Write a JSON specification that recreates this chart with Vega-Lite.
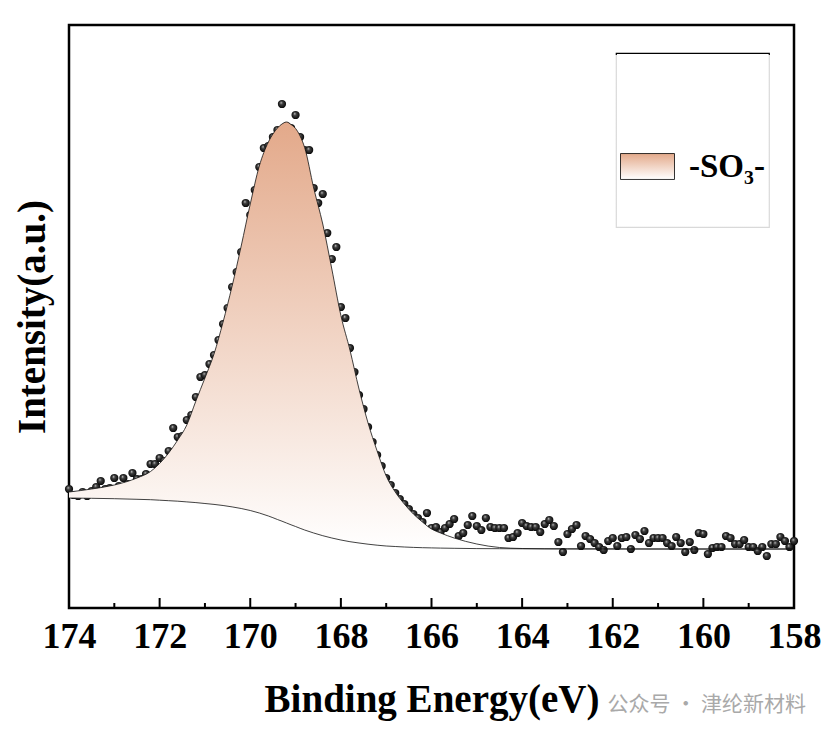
{
  "$schema": "https://vega.github.io/schema/vega-lite/v6.json",
  "autosize": {"type": "none"},
  "padding": {"left": 69, "top": 25, "right": 39, "bottom": 126},
  "width": 725,
  "height": 583,
  "background": "white",
  "title": {"text": "公众号 · 津纶新材料", "orient": "bottom", "anchor": "end", "frame": "group", "font": "Noto Sans CJK SC", "fontSize": 21, "fontWeight": "normal", "color": "#a9a9a9", "offset": -25, "dx": 12},
  "config": {
    "font": "Liberation Serif",
    "view": {"stroke": "black", "strokeWidth": 2.5}
  },
  "datasets": {
    "majorTicks": [{"t":158},{"t":160},{"t":162},{"t":164},{"t":166},{"t":168},{"t":170},{"t":172},{"t":174}],
    "minorTicks": [{"t":159},{"t":161},{"t":163},{"t":165},{"t":167},{"t":169},{"t":171},{"t":173}],
    "pts": [
      {"be":174.0,"c":119},{"be":173.9,"c":113},{"be":173.8,"c":112},{"be":173.7,"c":116},{"be":173.6,"c":112},{"be":173.5,"c":117},{"be":173.4,"c":121},{"be":173.3,"c":127},{"be":173.2,"c":119},{"be":173.1,"c":120},
      {"be":173.0,"c":130},{"be":172.9,"c":122},{"be":172.8,"c":130},{"be":172.7,"c":124},{"be":172.6,"c":135},{"be":172.5,"c":129},{"be":172.4,"c":129},{"be":172.3,"c":134},{"be":172.2,"c":144},{"be":172.1,"c":144},
      {"be":172.0,"c":150},{"be":171.9,"c":147},{"be":171.8,"c":157},{"be":171.7,"c":180},{"be":171.6,"c":171},{"be":171.5,"c":172},{"be":171.4,"c":188},{"be":171.3,"c":193},{"be":171.2,"c":211},{"be":171.1,"c":231},
      {"be":171.0,"c":233},{"be":170.9,"c":244},{"be":170.8,"c":253},{"be":170.7,"c":268},{"be":170.6,"c":284},{"be":170.5,"c":300},{"be":170.4,"c":321},{"be":170.3,"c":336},{"be":170.2,"c":356},{"be":170.1,"c":405},
      {"be":170.0,"c":393},{"be":169.9,"c":418},{"be":169.8,"c":441},{"be":169.7,"c":460},{"be":169.6,"c":462},{"be":169.5,"c":471},{"be":169.4,"c":478},{"be":169.3,"c":504},{"be":169.2,"c":482},{"be":169.1,"c":480},
      {"be":169.0,"c":493},{"be":168.9,"c":471},{"be":168.8,"c":458},{"be":168.7,"c":458},{"be":168.6,"c":420},{"be":168.5,"c":405},{"be":168.4,"c":414},{"be":168.3,"c":375},{"be":168.2,"c":349},{"be":168.1,"c":361},
      {"be":168.0,"c":301},{"be":167.9,"c":290},{"be":167.8,"c":260},{"be":167.7,"c":236},{"be":167.6,"c":213},{"be":167.5,"c":199},{"be":167.4,"c":181},{"be":167.3,"c":166},{"be":167.2,"c":153},{"be":167.1,"c":142},
      {"be":167.0,"c":130},{"be":166.9,"c":123},{"be":166.8,"c":115},{"be":166.7,"c":109},{"be":166.6,"c":104},{"be":166.5,"c":99},{"be":166.4,"c":94},{"be":166.3,"c":90},{"be":166.2,"c":86},{"be":166.1,"c":95},
      {"be":166.0,"c":80},{"be":165.9,"c":81},{"be":165.8,"c":76},{"be":165.7,"c":80},{"be":165.6,"c":84},{"be":165.5,"c":89},{"be":165.4,"c":72},{"be":165.3,"c":75},{"be":165.2,"c":83},{"be":165.1,"c":92},
      {"be":165.0,"c":82},{"be":164.9,"c":78},{"be":164.8,"c":90},{"be":164.7,"c":81},{"be":164.6,"c":80},{"be":164.5,"c":80},{"be":164.4,"c":80},{"be":164.3,"c":70},{"be":164.2,"c":71},{"be":164.1,"c":75},
      {"be":164.0,"c":85},{"be":163.9,"c":82},{"be":163.8,"c":81},{"be":163.7,"c":81},{"be":163.6,"c":76},{"be":163.5,"c":84},{"be":163.4,"c":88},{"be":163.3,"c":82},{"be":163.2,"c":66},{"be":163.1,"c":56},
      {"be":163.0,"c":74},{"be":162.9,"c":79},{"be":162.8,"c":83},{"be":162.7,"c":62},{"be":162.6,"c":72},{"be":162.5,"c":69},{"be":162.4,"c":65},{"be":162.3,"c":61},{"be":162.2,"c":58},{"be":162.1,"c":67},
      {"be":162.0,"c":70},{"be":161.9,"c":62},{"be":161.8,"c":70},{"be":161.7,"c":71},{"be":161.6,"c":59},{"be":161.5,"c":73},{"be":161.4,"c":69},{"be":161.3,"c":77},{"be":161.2,"c":65},{"be":161.1,"c":70},
      {"be":161.0,"c":70},{"be":160.9,"c":70},{"be":160.8,"c":65},{"be":160.7,"c":62},{"be":160.6,"c":71},{"be":160.5,"c":65},{"be":160.4,"c":56},{"be":160.3,"c":66},{"be":160.2,"c":58},{"be":160.1,"c":75},
      {"be":160.0,"c":74},{"be":159.9,"c":54},{"be":159.8,"c":60},{"be":159.7,"c":61},{"be":159.6,"c":61},{"be":159.5,"c":72},{"be":159.4,"c":70},{"be":159.3,"c":64},{"be":159.2,"c":64},{"be":159.1,"c":68},
      {"be":159.0,"c":61},{"be":158.9,"c":61},{"be":158.8,"c":57},{"be":158.7,"c":61},{"be":158.6,"c":52},{"be":158.5,"c":64},{"be":158.4,"c":64},{"be":158.3,"c":71},{"be":158.2,"c":67},{"be":158.1,"c":61},
      {"be":158.0,"c":67}
    ],
    "fit": [
      {"be":174.0,"fit":116,"bg":110},{"be":173.5,"fit":119,"bg":109.7},{"be":173.0,"fit":123,"bg":109.3},{"be":172.5,"fit":130,"bg":108.7},{"be":172.2,"fit":136.5,"bg":108.3},
      {"be":172.0,"fit":144.5,"bg":107.8},{"be":171.8,"fit":155,"bg":107.3},{"be":171.6,"fit":168,"bg":106.8},{"be":171.4,"fit":183,"bg":106.1},{"be":171.2,"fit":207,"bg":105.4},
      {"be":171.0,"fit":230,"bg":104.5},{"be":170.8,"fit":254,"bg":103.6},{"be":170.6,"fit":286,"bg":102.5},{"be":170.4,"fit":322,"bg":101.1},{"be":170.2,"fit":362,"bg":99.5},
      {"be":170.0,"fit":404,"bg":97.5},{"be":169.8,"fit":442,"bg":95},{"be":169.6,"fit":466,"bg":92},{"be":169.5,"fit":474,"bg":90.3},{"be":169.4,"fit":480,"bg":88.5},
      {"be":169.3,"fit":484,"bg":86.8},{"be":169.2,"fit":486,"bg":85},{"be":169.1,"fit":483.5,"bg":83.2},{"be":169.0,"fit":479.5,"bg":81.5},{"be":168.9,"fit":472,"bg":79.7},
      {"be":168.8,"fit":460.5,"bg":78},{"be":168.6,"fit":420,"bg":75},{"be":168.4,"fit":384,"bg":72.3},{"be":168.2,"fit":339,"bg":70},{"be":168.0,"fit":292.5,"bg":68},
      {"be":167.8,"fit":258,"bg":66.3},{"be":167.6,"fit":219,"bg":65},{"be":167.4,"fit":185,"bg":63.8},{"be":167.2,"fit":157,"bg":62.8},{"be":167.0,"fit":132,"bg":62},
      {"be":166.8,"fit":116,"bg":61.5},{"be":166.6,"fit":104,"bg":61},{"be":166.4,"fit":94,"bg":60.6},{"be":166.2,"fit":86,"bg":60.3},{"be":166.0,"fit":79,"bg":60.1},
      {"be":165.8,"fit":75,"bg":59.9},{"be":165.5,"fit":70,"bg":59.7},{"be":165.0,"fit":64,"bg":59.4},{"be":164.5,"fit":60.5,"bg":59.3},{"be":164.0,"fit":59.5,"bg":59.2},
      {"be":163.0,"fit":59.1,"bg":59.1},{"be":161.0,"fit":59,"bg":59},{"be":158.0,"fit":59,"bg":59}
    ]
  },
  "encoding": {
    "x": {
      "field": "be", "type": "quantitative",
      "scale": {"domain": [158, 174], "reverse": true, "nice": false, "zero": false},
      "axis": {
        "orient": "bottom",
        "values": [158,160,162,164,166,168,170,172,174],
        "ticks": true, "tickSize": 0,
        "domain": false, "grid": false,
        "labelFont": "Liberation Serif", "labelFontSize": 36, "labelFontWeight": "bold", "labelColor": "black",
        "labelPadding": 11, "labelFlush": false, "labelOverlap": false,
        "title": "Binding Energy(eV)", "titleFont": "Liberation Serif", "titleFontSize": 39, "titleFontWeight": "bold", "titleColor": "black", "titlePadding": 26
      }
    }
  },
  "layer": [
    {
      "data": {"name": "pts"},
      "mark": {"type": "point", "shape": "circle", "filled": true, "size": 68, "opacity": 1, "strokeWidth": 0,
        "fill": {"gradient": "radial", "x1": 0.38, "y1": 0.32, "r1": 0, "x2": 0.5, "y2": 0.5, "r2": 0.55,
          "stops": [{"offset": 0, "color": "#e8e8e8"}, {"offset": 0.3, "color": "#444444"}, {"offset": 1, "color": "#000000"}]}},
      "encoding": {
        "y": {"field": "c", "type": "quantitative", "scale": {"domain": [0, 583], "nice": false, "zero": false},
          "axis": {"labels": false, "ticks": false, "domain": false, "grid": false,
            "title": "Intensity(a.u.)", "titleFont": "Liberation Serif", "titleFontSize": 39, "titleFontWeight": "bold", "titleColor": "black", "titlePadding": 17}}
      }
    },
    {
      "data": {"name": "fit"},
      "mark": {"type": "area", "interpolate": "monotone", "opacity": 1,
        "fill": {"gradient": "linear", "x1": 0, "y1": 0, "x2": 0, "y2": 1,
          "stops": [{"offset": 0, "color": "#e3a98a"}, {"offset": 1, "color": "#ffffff"}]}},
      "encoding": {
        "y": {"field": "fit", "type": "quantitative"},
        "y2": {"field": "bg"},
        "opacity": {"datum": "-SO₃-", "type": "ordinal", "scale": {"range": [1]},
          "legend": {"orient": "none", "legendX": 547, "legendY": 28, "title": " ", "titleFontSize": 68, "titlePadding": 14, "padding": 4,
            "fillColor": "white", "strokeColor": "#d9d9d9",
            "symbolType": "M-1,-0.48H1V0.48H-1ZM0,2", "symbolSize": 2916, "symbolStrokeColor": "black", "symbolStrokeWidth": 0.8,
            "labelFont": "Liberation Serif", "labelFontSize": 33, "labelFontWeight": "bold", "labelColor": "black", "labelOffset": 14,
            "encoding": {
              "legend": {"stroke": {"value": {"gradient": "linear", "x1": 0, "y1": 0, "x2": 0, "y2": 1,
                "stops": [{"offset": 0, "color": "#000000"}, {"offset": 0.01, "color": "#000000"}, {"offset": 0.012, "color": "#d9d9d9"}, {"offset": 1, "color": "#d9d9d9"}]}}, "strokeWidth": {"value": 1.2}},
              "symbols": {"fill": {"value": {"gradient": "linear", "x1": 0, "y1": 0, "x2": 0, "y2": 1,
                "stops": [{"offset": 0, "color": "#e3a98a"}, {"offset": 0.385, "color": "#ffffff"}, {"offset": 1, "color": "#ffffff"}]}},
                "stroke": {"value": "#000000"}, "strokeWidth": {"value": 0.8}, "opacity": {"value": 1}}}}}
      }
    },
    {
      "data": {"name": "fit"},
      "mark": {"type": "line", "interpolate": "monotone", "color": "#111111", "strokeWidth": 0.8},
      "encoding": {"y": {"field": "fit", "type": "quantitative"}}
    },
    {
      "data": {"name": "fit"},
      "mark": {"type": "line", "interpolate": "monotone", "color": "#111111", "strokeWidth": 0.8},
      "encoding": {"y": {"field": "bg", "type": "quantitative"}}
    },
    {
      "data": {"name": "majorTicks"},
      "mark": {"type": "rule", "color": "#000000", "strokeWidth": 2},
      "encoding": {"x": {"field": "t", "type": "quantitative"}, "y": {"datum": 0}, "y2": {"datum": 10}}
    },
    {
      "data": {"name": "minorTicks"},
      "mark": {"type": "rule", "color": "#000000", "strokeWidth": 2},
      "encoding": {"x": {"field": "t", "type": "quantitative"}, "y": {"datum": 0}, "y2": {"datum": 5}}
    }
  ]
}
